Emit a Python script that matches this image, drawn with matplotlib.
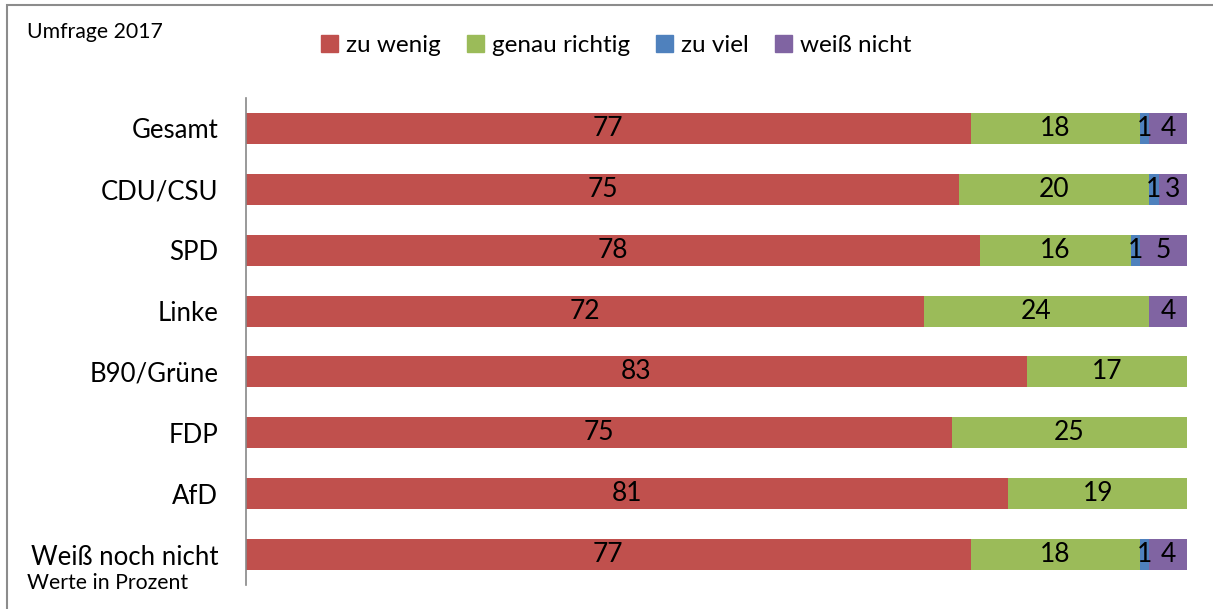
import numpy as np
import matplotlib.pyplot as plt
from matplotlib.patches import Rectangle, Patch

plt.rcParams['font.family'] = ['Lato', 'DejaVu Sans']

# Parteien / Gruppen
gruppen = ['Gesamt', 'CDU/CSU', 'SPD', 'Linke', 'B90/Grüne', 'FDP', 'AfD', 'Weiß noch nicht']
# Antworten in Prozent
zu_wenig = [77, 75, 78, 72, 83, 75, 81, 77]
genau_richtig = [18, 20, 16, 24, 17, 25, 19, 18]
zu_viel = [1, 1, 1, 0, 0, 0, 0, 1]
weiss_nicht = [4, 3, 5, 4, 0, 0, 0, 4]

serien = ['zu wenig', 'genau richtig', 'zu viel', 'weiß nicht']
farben = ['#C0504D', '#9BBB59', '#4F81BD', '#8064A2']

werte = np.array([zu_wenig, genau_richtig, zu_viel, weiss_nicht], dtype=float)
summe = werte.sum(axis=0)
anteile = werte / summe * 100  # 100% gestapelt

fig = plt.figure(figsize=(12.13, 6.09), dpi=100)
ax = fig.add_axes([0.2028, 0.0394, 0.7758, 0.7996])

y = np.arange(len(gruppen))
links = np.zeros(len(gruppen))
for i in range(4):
    bars = ax.barh(y, anteile[i], left=links, height=0.51, color=farben[i], label=serien[i])
    for j, b in enumerate(bars):
        if werte[i][j] > 0:
            ax.text(links[j] + anteile[i][j] / 2, y[j], '%d' % werte[i][j],
                    ha='center', va='center', fontsize=19, color='black')
    links += anteile[i]

ax.set_xlim(0, 100)
ax.set_ylim(len(gruppen) - 0.5, -0.5)
ax.set_yticks(y)
ax.set_yticklabels(gruppen, fontsize=18.5)
ax.tick_params(axis='y', length=0, pad=20)
ax.set_xticks([])
for s in ['top', 'right', 'bottom']:
    ax.spines[s].set_visible(False)
ax.spines['left'].set_color('#888888')
ax.spines['left'].set_linewidth(1.2)

handles = [Patch(color=c) for c in farben]
fig.legend(handles, serien, loc='center', bbox_to_anchor=(0.508, 0.926), ncol=4,
           frameon=False, fontsize=17.5, handlelength=0.7, handleheight=0.7,
           handletextpad=0.35, columnspacing=1.05)

fig.text(0.022, 0.948, 'Umfrage 2017', fontsize=15.3, va='center')
fig.text(0.022, 0.042, 'Werte in Prozent', fontsize=15.3, va='center')

# Rahmen
fig.patches.append(Rectangle((0.0058, -0.1), 1.2, 1.092, transform=fig.transFigure,
                             fill=False, edgecolor='#8c8c8c', linewidth=1.5))

fig.savefig('out.png', dpi=100)
